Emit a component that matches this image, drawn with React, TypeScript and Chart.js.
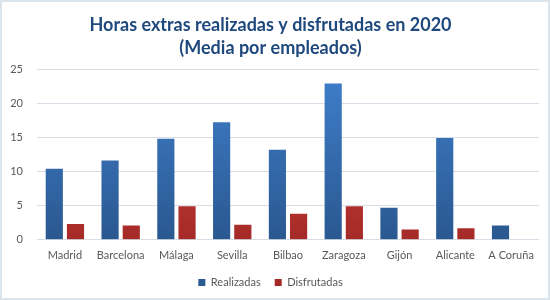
import React, { useEffect, useRef } from "react";
import { Chart, registerables } from "chart.js";

Chart.register(...registerables);

const categories = ["Madrid", "Barcelona", "Málaga", "Sevilla", "Bilbao", "Zaragoza", "Gijón", "Alicante", "A Coruña"];
const realizadas = [10.4, 11.6, 14.8, 17.2, 13.2, 22.9, 4.7, 14.9, 2.1];
const disfrutadas: (number | null)[] = [2.3, 2.1, 4.9, 2.2, 3.8, 4.9, 1.5, 1.7, null];
const titleLines = ["Horas extras realizadas y disfrutadas en 2020", "(Media por empleados)"];

const FONT = "Lato, 'Open Sans', sans-serif";

function grad(ctx: any, top: string, bottom: string, fallback: string) {
  const chart = ctx.chart;
  const area = chart.chartArea;
  if (!area) return fallback;
  const g = chart.ctx.createLinearGradient(0, area.top, 0, area.bottom);
  g.addColorStop(0, top);
  g.addColorStop(1, bottom);
  return g;
}

export default function App() {
  const ref = useRef<HTMLCanvasElement>(null);
  useEffect(() => {
    document.body.style.margin = "0";
    const chart = new Chart(ref.current!, {
      type: "bar",
      data: {
        labels: categories,
        datasets: [
          {
            label: "Realizadas",
            data: realizadas,
            backgroundColor: (c: any) => grad(c, "#3F7FCC", "#2A5890", "#3468AD"),
            categoryPercentage: 0.76,
            barPercentage: 0.81,
          },
          {
            label: "Disfrutadas",
            data: disfrutadas,
            backgroundColor: (c: any) => grad(c, "#DC4643", "#A52A27", "#C0504D"),
            categoryPercentage: 0.76,
            barPercentage: 0.81,
          },
        ],
      },
      options: {
        animation: false,
        responsive: false,
        maintainAspectRatio: false,
        layout: { padding: { left: 0, right: 9, top: 6, bottom: 0 } },
        plugins: {
          title: {
            display: true,
            text: titleLines,
            color: "#1F497D",
            font: { family: FONT, size: 18, weight: "bold", lineHeight: 1.28 },
            padding: { top: 6, bottom: 9 },
          },
          legend: {
            position: "bottom",
            labels: {
              color: "#595959",
              font: { family: FONT, size: 11 },
              boxWidth: 7,
              boxHeight: 7,
              padding: 14,
            },
          },
          tooltip: { enabled: false },
        },
        scales: {
          x: {
            grid: { display: false },
            border: { display: false },
            ticks: { color: "#595959", font: { family: FONT, size: 11 }, padding: 1 },
          },
          y: {
            min: 0,
            max: 25,
            afterFit: (s: any) => {
              s.width = 35;
            },
            ticks: { stepSize: 5, color: "#595959", font: { family: FONT, size: 11 }, padding: 14 },
            grid: { color: "#D9DEE6", drawTicks: false },
            border: { display: false },
          },
        },
      },
    });
    return () => chart.destroy();
  }, []);
  return (
    <div
      style={{
        position: "fixed",
        left: 0,
        top: 0,
        width: 550,
        height: 300,
        boxSizing: "border-box",
        border: "2px solid #DCE4EC",
        background: "#fff",
      }}
    >
      <canvas ref={ref} width={546} height={296} />
    </div>
  );
}
